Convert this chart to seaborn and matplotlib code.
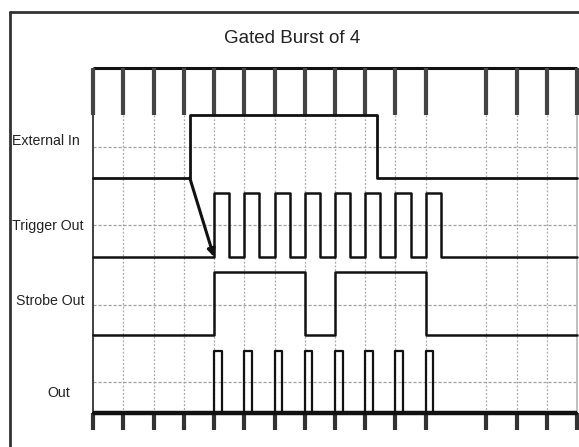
import numpy as np
import pandas as pd
import matplotlib
matplotlib.use("Agg")
import matplotlib.pyplot as plt
from matplotlib import font_manager
from matplotlib.lines import Line2D
import seaborn as sns

# clock slots (grid units), slot 12 has no clock edge
clock_ticks = [0, 1, 2, 3, 4, 5, 6, 7, 8, 9, 10, 11, 13, 14, 15, 16]

# signals as step transitions (time in clock slots, level 0/1)
ext_t = [0, 3.2, 9.38, 16]
ext_v = [0, 1, 0, 0]

trig_t = [0, 4, 4.5, 5, 5.5, 6, 6.5, 7, 7.5, 8, 8.5, 9, 9.5, 10, 10.5, 11, 11.5, 16]
trig_v = [0, 1, 0, 1, 0, 1, 0, 1, 0, 1, 0, 1, 0, 1, 0, 1, 0, 0]

strobe_t = [0, 4, 7, 8, 11, 16]
strobe_v = [0, 1, 0, 1, 0, 0]

out_t = [0, 4, 4.25, 5, 5.25, 6, 6.25, 7, 7.25, 8, 8.25, 9, 9.25, 10, 10.25, 11, 11.25, 16]
out_v = [0, 1, 0, 1, 0, 1, 0, 1, 0, 1, 0, 1, 0, 1, 0, 1, 0, 0]

labels = ["External In", "Trigger Out", "Strobe Out", "Out"]
title = "Gated Burst of 4"

sns.set_style("white")
names = {f.name for f in font_manager.fontManager.ttflist}
if "Liberation Sans Narrow" in names:
    fam, title_fs, lab_fs = "Liberation Sans Narrow", 16, 12.3
else:
    fam, title_fs, lab_fs = "Liberation Sans", 13.5, 10.2
plt.rcParams["font.family"] = [fam, "DejaVu Sans"]

W, H = 579, 447
fig = plt.figure(figsize=(W / 100, H / 100), dpi=100)
ax = fig.add_axes([0, 0, 1, 1])
x0, dx = 93, 30.25
ax.set_xlim(-x0 / dx, (W - x0) / dx)
ax.set_ylim(H, 0)
ax.axis("off")

# rows: (high, low) in pixel rows
rows = [(115, 178), (193, 257), (272, 335), (351, 413)]
mids = [147, 225, 305, 382]

# grid
grid_x = [k for k in clock_ticks if 0 < k < 16]
ax.vlines(grid_x, 115, 413, colors="#a8a8a8", lw=0.9, linestyles=(0, (1.5, 1.5)))
ax.hlines(mids, 0, 16, colors="#a0a0a0", lw=0.9, linestyles=(0, (2.5, 1.5)))
ax.vlines([0], 113, 430, colors="#333333", lw=1.3)
ax.vlines([16], 115, 413, colors="#bbbbbb", lw=1.3)

# clock
ax.hlines(68, 0, 16, colors="#111111", lw=2.2)
ax.vlines(clock_ticks, 68, 115, colors="#444444", lw=3)
ax.vlines(clock_ticks, 413, 430, colors="#333333", lw=3)

signals = [(ext_t, ext_v, 2.0), (trig_t, trig_v, 1.8), (strobe_t, strobe_v, 1.8), (out_t, out_v, 1.6)]
for (t, v, lw), (hi, lo) in zip(signals, rows):
    df = pd.DataFrame({"t": t, "y": [lo - s * (lo - hi) for s in v]})
    sns.lineplot(data=df, x="t", y="y", ax=ax, drawstyle="steps-post",
                 color="#111111", lw=lw, estimator=None, sort=False)
ax.hlines(413, 0, 16, colors="#111111", lw=3.2)

# trigger arrow
ax.annotate("", xy=(4, 257), xytext=(ext_t[1], 178),
            arrowprops=dict(arrowstyle="-|>", color="#111111", lw=2.2,
                            mutation_scale=11, shrinkA=0, shrinkB=0))

# outer frame
fig.add_artist(Line2D([10 / W, 1], [1 - 12 / H, 1 - 12 / H], color="#333333", lw=2))
fig.add_artist(Line2D([10 / W, 10 / W], [1 - 12 / H, 0], color="#333333", lw=2))

fig.text(292 / W, 1 - 43 / H, title, ha="center", va="baseline",
         fontsize=title_fs, color="#222222")
lab_pos = [(12, 145, "left"), (12, 230, "left"), (84, 305, "right"), (70, 397, "right")]
for lab, (lx, ly, ha) in zip(labels, lab_pos):
    fig.text(lx / W, 1 - ly / H, lab, ha=ha, va="baseline", fontsize=lab_fs, color="#222222")

fig.savefig("out.png", dpi=100)
